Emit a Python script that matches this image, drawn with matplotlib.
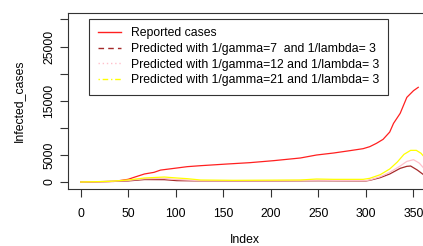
import matplotlib
matplotlib.use("Agg")
import matplotlib.pyplot as plt
from matplotlib.lines import Line2D

plt.rcParams['font.family'] = ['Liberation Sans', 'DejaVu Sans']

# reported cases
rep_x = [0, 35, 50, 56, 67, 77, 84, 101, 112, 126, 154, 178, 203, 231, 248, 266,
         283, 297, 304, 311, 318, 325, 329, 336, 343, 350, 355]
rep_y = [0, 100, 500, 860, 1480, 1780, 2200, 2580, 2830, 3010, 3320, 3570, 3940,
         4430, 4980, 5350, 5780, 6150, 6520, 7130, 7870, 9220, 10820, 12670,
         15620, 16850, 17470]

# predicted, 1/gamma = 7
g7_x = [0, 30, 50, 67, 88, 101, 126, 200, 250, 300, 304, 315, 325, 336, 343, 347, 354, 361]
g7_y = [0, 100, 200, 450, 430, 250, 200, 200, 230, 200, 310, 800, 1480, 2520, 2890, 2950, 2210, 1290]

# predicted, 1/gamma = 12
g12_x = [0, 30, 50, 67, 88, 101, 126, 200, 250, 300, 304, 315, 325, 336, 343, 350, 356, 361]
g12_y = [0, 100, 300, 600, 650, 450, 250, 250, 320, 260, 370, 980, 1780, 2950, 3800, 4120, 3500, 2520]

# predicted, 1/gamma = 21
g21_x = [0, 30, 50, 67, 88, 101, 112, 126, 161, 231, 248, 266, 297, 304, 315, 325,
         333, 340, 347, 353, 358, 361]
g21_y = [0, 120, 370, 740, 920, 740, 615, 370, 310, 370, 550, 490, 490, 680, 1350,
         2400, 3690, 5100, 5840, 5840, 5290, 4670]

labels = ["Reported cases",
          "Predicted with 1/gamma=7  and 1/lambda= 3",
          "Predicted with 1/gamma=12 and 1/lambda= 3",
          "Predicted with 1/gamma=21 and 1/lambda= 3"]
colors = ["#FF2020", "#A52A2A", "#FFC0CB", "#FFFF00"]
styles = ["-", (0, (4, 3)), (0, (1, 2)), (0, (1, 2, 4, 2))]

fs = 8.8
W, H = 423, 246
fig = plt.figure(figsize=(W / 100, H / 100), dpi=100)
left, right, top, bottom = 67.7, 423, 12.7, 188.7
ax = fig.add_axes([left / W, 1 - bottom / H, (right - left) / W, (bottom - top) / H])

ax.plot(rep_x, rep_y, color=colors[0], lw=0.9)
ax.plot(g7_x, g7_y, color=colors[1], lw=0.9)
ax.plot(g12_x, g12_y, color=colors[2], lw=0.9)
ax.plot(g21_x, g21_y, color=colors[3], lw=0.9)

ax.set_xlim(-13.7, 360)
ax.set_ylim(-1236, 31240)
ax.set_xticks(range(0, 351, 50))
ax.set_yticks(range(0, 30001, 5000))
ax.set_yticklabels(["0", "5000", "", "15000", "", "25000", ""], rotation=90, va='center')
ax.tick_params(axis='both', length=6, width=0.8, color='#333333', labelsize=fs)
ax.tick_params(axis='x', pad=8)
ax.tick_params(axis='y', pad=3)
for s in ['left', 'bottom', 'top']:
    ax.spines[s].set_color('#333333')
    ax.spines[s].set_linewidth(0.8)
ax.spines['right'].set_visible(False)

ax.set_xlabel("Index", fontsize=fs, labelpad=10)
ax.set_ylabel("Infected_cases", fontsize=fs, labelpad=13)

handles = [Line2D([], [], color=c, ls=s, lw=1.0) for c, s in zip(colors, styles)]
leg = fig.legend(handles, labels, loc='upper left',
                 bbox_to_anchor=(89.3 / W, 1 - 18.7 / H), bbox_transform=fig.transFigure,
                 fontsize=fs, frameon=True, fancybox=False, framealpha=1,
                 edgecolor='#333333', handlelength=1.9, handletextpad=0.85,
                 labelspacing=0.3, borderpad=0.7, borderaxespad=0)
leg.get_frame().set_linewidth(0.8)

fig.savefig("out.png", dpi=100)
